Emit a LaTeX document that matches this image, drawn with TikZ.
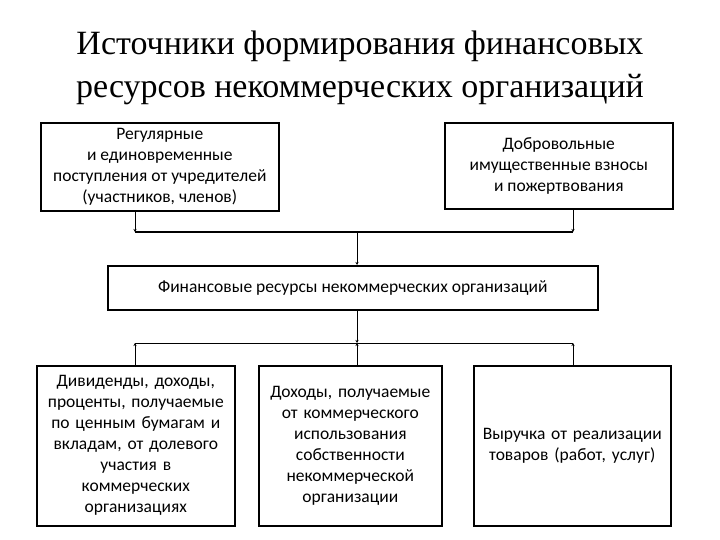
\documentclass[tikz,border=0pt]{standalone}
\usepackage{fontspec}
\setmainfont{Carlito}
\newfontfamily\titlefont{Liberation Serif}
\usetikzlibrary{arrows.meta}
\begin{document}
\begin{tikzpicture}[x=1pt,y=-1pt,
  box/.style={draw,line width=1.6pt,align=center,font=\fontsize{17.5}{21}\selectfont,inner sep=1pt},
  con/.style={line width=1pt},
  arr/.style={line width=1pt,-{Stealth[length=3pt,width=3pt]}}]
\useasboundingbox (0,0) rectangle (720,540);
\node[font=\titlefont\fontsize{34}{43}\selectfont,align=center] (title) at (360,68) {Источники формирования финансовых\\ресурсов некоммерческих организаций};
\node[box,minimum width=238,minimum height=88,anchor=north west] (a) at (40,122) {Регулярные\\и единовременные\\поступления от учредителей\\(участников, членов)};
\node[box,minimum width=228,minimum height=86,anchor=north west] (b) at (444,122) {Добровольные\\имущественные взносы\\и пожертвования};
\node[box,minimum width=490,minimum height=44,anchor=north west] (c) at (107,265) {Финансовые ресурсы некоммерческих организаций};
\node[box,text width=196,minimum height=160,anchor=north west] (d) at (36,365) {Дивиденды, доходы,\\проценты, получаемые\\по ценным бумагам и\\вкладам, от долевого\\участия в\\коммерческих\\организациях};
\node[box,text width=181,minimum height=160,anchor=north west] (e) at (258,365) {Доходы, получаемые\\от коммерческого\\использования\\собственности\\некоммерческой\\организации};
\node[box,text width=195,minimum height=160,anchor=north west] (f) at (473,365) {Выручка от реализации\\товаров (работ, услуг)};
\coordinate (j1) at (135,232);
\coordinate (j2) at (573,232);
\coordinate (j3) at (357,232);
\coordinate (k1) at (135,343);
\coordinate (k2) at (573,343);
\coordinate (k3) at (357,343);
\draw[arr] (a.south -| j1) -- (j1);
\draw[arr] (b.south -| j2) -- (j2);
\draw[con] (j1) -- (j2);
\draw[arr] (j3) -- (c.north -| j3);
\draw[arr] (c.south -| k3) -- (k3);
\draw[con] (k1) -- (k2);
\draw[arr] (d.north -| k1) -- (k1);
\draw[arr] (e.north -| k3) -- (k3);
\draw[arr] (f.north -| k2) -- (k2);
\end{tikzpicture}
\end{document}
